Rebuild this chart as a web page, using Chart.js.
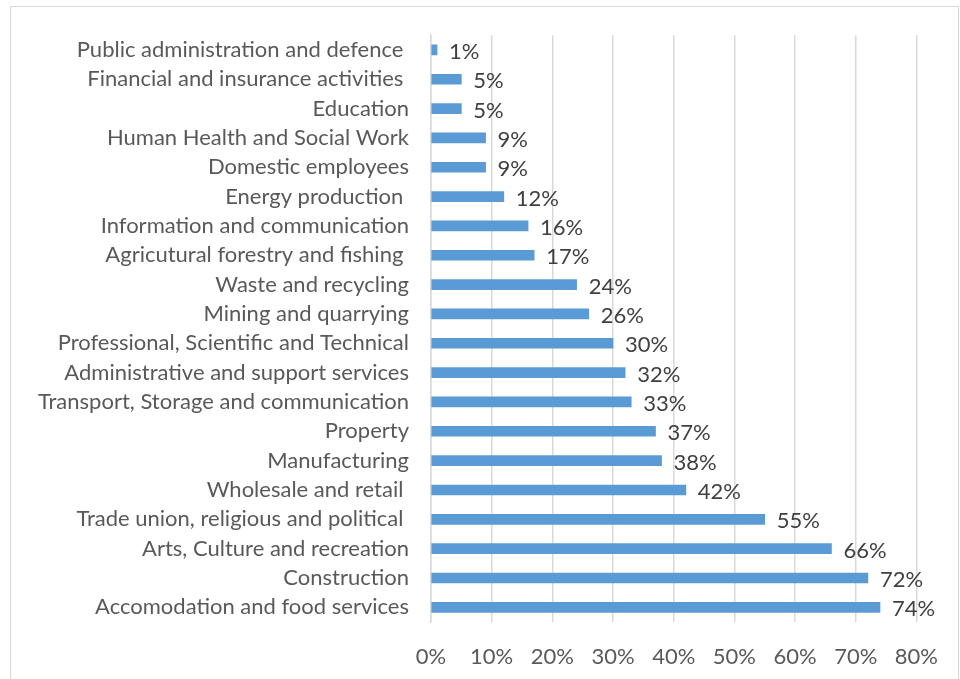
<!DOCTYPE html>
<html>
<head>
<meta charset="utf-8">
<script src="https://cdn.jsdelivr.net/npm/chart.js@4.4.1/dist/chart.umd.min.js"></script>
<style>
  html, body { margin: 0; padding: 0; background: #fff; overflow: hidden; }
  #frame { position: absolute; left: 10px; top: 6px; width: 947px; height: 720px; border: 1px solid #d9d9d9; }
  #wrap { position: absolute; left: 0; top: 0; width: 960px; height: 679px; }
</style>
</head>
<body>
<div id="frame"></div>
<div id="wrap"><canvas id="sectorChart"></canvas></div>
<script>
// sectors, top to bottom
const sectors = [
  "Public administration and defence ",
  "Financial and insurance activities ",
  "Education",
  "Human Health and Social Work",
  "Domestic employees",
  "Energy production ",
  "Information and communication",
  "Agricutural forestry and fishing ",
  "Waste and recycling",
  "Mining and quarrying",
  "Professional, Scientific and Technical",
  "Administrative and support services",
  "Transport, Storage and communication",
  "Property",
  "Manufacturing",
  "Wholesale and retail ",
  "Trade union, religious and political ",
  "Arts, Culture and recreation",
  "Construction",
  "Accomodation and food services"
];

// share per sector, percent
const shares = [1, 5, 5, 9, 9, 12, 16, 17, 24, 26, 30, 32, 33, 37, 38, 42, 55, 66, 72, 74];

const axisMax = 80;
const axisStep = 10;

const FONT = "Lato, 'Open Sans', sans-serif";

// value labels at the end of each bar
const barLabels = {
  id: "barLabels",
  afterDatasetsDraw(chart) {
    const ctx = chart.ctx;
    const meta = chart.getDatasetMeta(0);
    ctx.save();
    ctx.font = "22px " + FONT;
    ctx.fillStyle = "#404040";
    ctx.textAlign = "left";
    ctx.textBaseline = "middle";
    meta.data.forEach((bar, i) => {
      ctx.fillText(shares[i] + "%", bar.x + 12, bar.y + 2);
    });
    ctx.restore();
  }
};

const ctx = document.getElementById("sectorChart").getContext("2d");

const sectorChart = new Chart(ctx, {
  type: "bar",
  data: {
    labels: sectors,
    datasets: [{
      data: shares,
      backgroundColor: "#5b9bd5",
      borderWidth: 0,
      barThickness: 10
    }]
  },
  options: {
    indexAxis: "y",
    responsive: true,
    maintainAspectRatio: false,
    animation: false,
    layout: { padding: { left: 0, right: 34, top: 34, bottom: 0 } },
    plugins: {
      legend: { display: false },
      tooltip: { enabled: false }
    },
    scales: {
      x: {
        min: 0,
        max: axisMax,
        grid: { color: "#d9d9d9", lineWidth: 1.5, drawTicks: false },
        border: { display: false },
        ticks: {
          stepSize: axisStep,
          padding: 22,
          color: "#595959",
          font: { family: FONT, size: 22 },
          callback: (v) => v + "%"
        },
        afterFit: (scale) => { scale.height = 57; }
      },
      y: {
        grid: { display: false, drawTicks: false },
        border: { display: true, color: "#d9d9d9", width: 1.5 },
        ticks: {
          padding: 22,
          color: "#595959",
          font: { family: FONT, size: 22 },
          autoSkip: false
        },
        afterFit: (scale) => { scale.width = 431; }
      }
    }
  },
  plugins: [barLabels]
});
</script>
</body>
</html>
